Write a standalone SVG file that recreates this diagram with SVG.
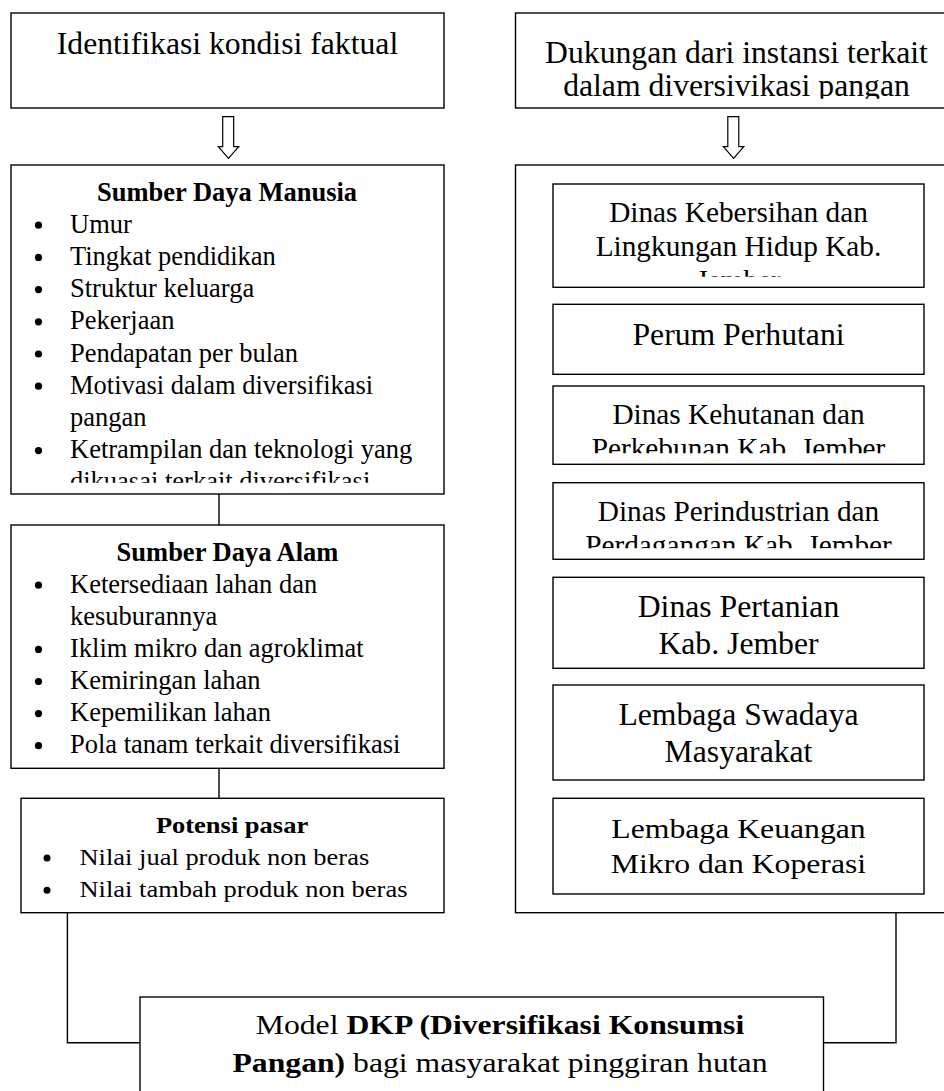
<svg xmlns="http://www.w3.org/2000/svg" width="944" height="1091" viewBox="0 0 944 1091">
<style>
.box{fill:#fff;stroke:#000;stroke-width:1.4}
.ln{fill:none;stroke:#000;stroke-width:1.4}
.arr{fill:#fff;stroke:#000;stroke-width:1.2;stroke-linejoin:miter}
text{font-family:"Liberation Serif","Times New Roman",serif;fill:#000}
.c{text-anchor:middle}
.b{font-weight:bold}
.s26{font-size:26.5px}
.s29{font-size:29.3px}
.s31{font-size:31.7px}
</style>
<defs>
<clipPath id="cTR"><rect x="515" y="13" width="430" height="85.7"/></clipPath>
<clipPath id="cSDM"><rect x="11" y="165" width="433" height="317.7"/></clipPath>
<clipPath id="cB1"><rect x="553" y="184" width="371" height="92.7"/></clipPath>
<clipPath id="cB3"><rect x="553" y="386" width="371" height="67.3"/></clipPath>
<clipPath id="cB4"><rect x="553" y="482" width="371" height="66.3"/></clipPath>
</defs>

<g id="connectors">
<path class="arr" d="M222.7,116.7 V146.7 H218.3 L228.5,158.3 L238.7,146.7 H233.7 V116.7 Z"/>
<path class="arr" d="M727.8,116.7 V146.7 H723.4 L733.6,158.3 L743.8,146.7 H738.8 V116.7 Z"/>
<line class="ln" x1="219" y1="494" x2="219" y2="525"/>
<line class="ln" x1="219" y1="768.3" x2="219" y2="798.3"/>
<polyline class="ln" points="67.4,912.7 67.4,1042.7 140,1042.7"/>
<polyline class="ln" points="896,912.7 896,1042.7 823.5,1042.7"/>
</g>

<g id="identifikasi">
<rect class="box" x="11" y="13" width="433" height="95"/>
<text class="c s31" x="227.5" y="54.3">Identifikasi kondisi faktual</text>
</g>

<g id="dukungan">
<rect class="box" x="515.5" y="13" width="450" height="95"/>
<g clip-path="url(#cTR)">
<text class="c s31" x="736.5" y="62.5">Dukungan dari instansi terkait</text>
<text class="c s31" x="736.5" y="96">dalam diversivikasi pangan</text>
</g>
</g>

<g id="sdm">
<rect class="box" x="11" y="165" width="433" height="329"/>
<text class="c b s26" x="227" y="200.5">Sumber Daya Manusia</text>
<g clip-path="url(#cSDM)">
<circle cx="38.5" cy="225.2" r="3.6"/>
<circle cx="38.5" cy="257.4" r="3.6"/>
<circle cx="38.5" cy="289.6" r="3.6"/>
<circle cx="38.5" cy="321.8" r="3.6"/>
<circle cx="38.5" cy="354" r="3.6"/>
<circle cx="38.5" cy="386.2" r="3.6"/>
<circle cx="38.5" cy="450.6" r="3.6"/>
<text class="s26" x="70" y="232.7">Umur</text>
<text class="s26" x="70" y="264.9">Tingkat pendidikan</text>
<text class="s26" x="70" y="297.1">Struktur keluarga</text>
<text class="s26" x="70" y="329.3">Pekerjaan</text>
<text class="s26" x="70" y="361.5">Pendapatan per bulan</text>
<text class="s26" x="70" y="393.7">Motivasi dalam diversifikasi</text>
<text class="s26" x="70" y="425.9">pangan</text>
<text class="s26" x="70" y="458.1">Ketrampilan dan teknologi yang</text>
<text class="s26" x="70" y="490.3">dikuasai terkait diversifikasi</text>
</g>
</g>

<g id="sda">
<rect class="box" x="11" y="525" width="433" height="243.3"/>
<text class="c b s26" x="227.5" y="561">Sumber Daya Alam</text>
<circle cx="38.5" cy="585.2" r="3.6"/>
<circle cx="38.5" cy="649.4" r="3.6"/>
<circle cx="38.5" cy="681.5" r="3.6"/>
<circle cx="38.5" cy="713.6" r="3.6"/>
<circle cx="38.5" cy="745.7" r="3.6"/>
<text class="s26" x="70" y="592.7">Ketersediaan lahan dan</text>
<text class="s26" x="70" y="624.8">kesuburannya</text>
<text class="s26" x="70" y="656.9">Iklim mikro dan agroklimat</text>
<text class="s26" x="70" y="689">Kemiringan lahan</text>
<text class="s26" x="70" y="721.1">Kepemilikan lahan</text>
<text class="s26" x="70" y="753.2">Pola tanam terkait diversifikasi</text>
</g>

<g id="potensi">
<rect class="box" x="21" y="798.3" width="423" height="114.4"/>
<text class="c b s26" transform="translate(232,833.3) scale(1,0.9)">Potensi pasar</text>
<circle cx="47" cy="858" r="3.5"/>
<circle cx="47" cy="890.3" r="3.5"/>
<text class="s26" transform="translate(79.5,865) scale(1,0.9)">Nilai jual produk non beras</text>
<text class="s26" transform="translate(79.5,897.3) scale(1,0.9)">Nilai tambah produk non beras</text>
</g>

<g id="instansi">
<rect class="box" x="515.5" y="165" width="450" height="747.7"/>
</g>

<g id="dkl">
<rect class="box" x="553" y="184" width="371" height="103.3"/>
<g clip-path="url(#cB1)">
<text class="c s29" x="738.5" y="221.7">Dinas Kebersihan dan</text>
<text class="c s29" x="738.5" y="256">Lingkungan Hidup Kab.</text>
<text class="c s29" x="738.5" y="290.3">Jember</text>
</g>
</g>

<g id="perhutani">
<rect class="box" x="553" y="304.3" width="371" height="70"/>
<text class="c s31" x="738.5" y="345">Perum Perhutani</text>
</g>

<g id="dkp-jember">
<rect class="box" x="553" y="386" width="371" height="78.3"/>
<g clip-path="url(#cB3)">
<text class="c s29" x="738.5" y="424">Dinas Kehutanan dan</text>
<text class="c s29" x="738.5" y="458.3">Perkebunan Kab. Jember</text>
</g>
</g>

<g id="disperindag">
<rect class="box" x="553" y="482.7" width="371" height="76.6"/>
<g clip-path="url(#cB4)">
<text class="c s29" x="738.5" y="520.5">Dinas Perindustrian dan</text>
<text class="c s29" x="738.5" y="554.8">Perdagangan Kab. Jember</text>
</g>
</g>

<g id="pertanian">
<rect class="box" x="553" y="577.3" width="371" height="91"/>
<text class="c s31" x="738.5" y="617">Dinas Pertanian</text>
<text class="c s31" x="738.5" y="654.3">Kab. Jember</text>
</g>

<g id="lsm">
<rect class="box" x="553" y="685" width="371" height="95"/>
<text class="c s31" x="738.5" y="725">Lembaga Swadaya</text>
<text class="c s31" x="738.5" y="761.7">Masyarakat</text>
</g>

<g id="lkm">
<rect class="box" x="553" y="798.3" width="371" height="95.7"/>
<text class="c s31" transform="translate(738.5,838) scale(1,0.89)">Lembaga Keuangan</text>
<text class="c s31" transform="translate(738.5,873) scale(1,0.89)">Mikro dan Koperasi</text>
</g>

<g id="model">
<rect class="box" x="140" y="997" width="683.5" height="110"/>
<text class="c s31" transform="translate(500,1034) scale(1,0.88)">Model <tspan class="b">DKP (Diversifikasi Konsumsi</tspan></text>
<text class="c s31" transform="translate(500,1072) scale(1,0.88)"><tspan class="b">Pangan)</tspan> bagi masyarakat pinggiran hutan</text>
</g>
</svg>
